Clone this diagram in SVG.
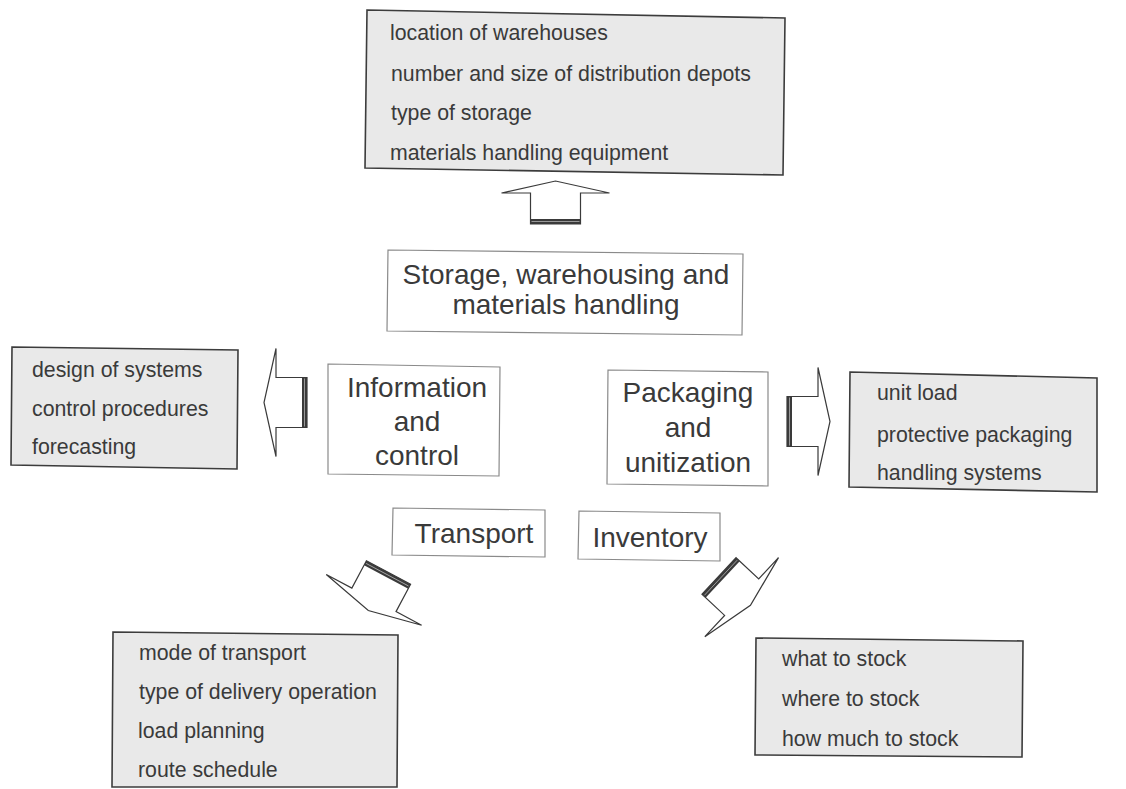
<svg xmlns="http://www.w3.org/2000/svg" xmlns:xlink="http://www.w3.org/1999/xlink" width="1126" height="789" viewBox="0 0 1126 789">
<style>
text{font-family:"Liberation Sans",Arial,sans-serif;fill:#3a3a3a}
.det{fill:#e9e9e9;stroke:#3c3c3c;stroke-width:1.6}
.lab{fill:#ffffff;stroke:#8a8a8a;stroke-width:1.2}
.dt{font-size:21.3px}
.lt{font-size:28px;text-anchor:middle}
.ah{fill:#ffffff;stroke:#3a3a3a;stroke-width:1.2;stroke-linejoin:miter}
</style>
<defs>
<g id="arr">
<polygon class="ah" points="0,-25 31,-25 31,-54 43,0 31,54 31,25 0,25"/>
<rect x="0" y="-25" width="5" height="50" fill="#3a3a3a"/>
<line x1="2.5" y1="-24" x2="2.5" y2="24" stroke="#b0b0b0" stroke-width="0.8"/>
</g>
</defs>
<rect width="1126" height="789" fill="#ffffff"/>

<g id="storage-details">
<polygon class="det" points="367,10 785,18 783,175 365,168"/>
<text class="dt" x="390" y="40">location of warehouses</text>
<text class="dt" x="391" y="81">number and size of distribution depots</text>
<text class="dt" x="391" y="120">type of storage</text>
<text class="dt" x="390" y="160">materials handling equipment</text>
</g>

<g id="storage">
<polygon class="lab" points="388,250 743,254 742,335 387,331"/>
<text class="lt" x="566" y="284">Storage, warehousing and</text>
<text class="lt" x="566" y="314">materials handling</text>
</g>

<g id="info-details">
<polygon class="det" points="12,347 238,350 237,469 11,465"/>
<text class="dt" x="32" y="377">design of systems</text>
<text class="dt" x="32" y="416">control procedures</text>
<text class="dt" x="32" y="454">forecasting</text>
</g>

<g id="information">
<polygon class="lab" points="328,364 500,367 499,476 328,474"/>
<text class="lt" x="417" y="397">Information</text>
<text class="lt" x="417" y="431">and</text>
<text class="lt" x="417" y="465">control</text>
</g>

<g id="packaging">
<polygon class="lab" points="608,370 768,372 768,486 607,484"/>
<text class="lt" x="688" y="402">Packaging</text>
<text class="lt" x="688" y="437">and</text>
<text class="lt" x="688" y="472">unitization</text>
</g>

<g id="packaging-details">
<polygon class="det" points="850,372 1097,378 1097,492 849,487"/>
<text class="dt" x="877" y="400">unit load</text>
<text class="dt" x="877" y="442">protective packaging</text>
<text class="dt" x="877" y="480">handling systems</text>
</g>

<g id="transport">
<polygon class="lab" points="393,508 545,510 545,557 392,555"/>
<text class="lt" x="474" y="543">Transport</text>
</g>

<g id="inventory">
<polygon class="lab" points="579,511 720,513 720,561 578,559"/>
<text class="lt" x="650" y="547">Inventory</text>
</g>

<g id="transport-details">
<polygon class="det" points="113,632 398,635 397,787 112,787"/>
<text class="dt" x="139" y="660">mode of transport</text>
<text class="dt" x="139" y="699">type of delivery operation</text>
<text class="dt" x="138" y="738">load planning</text>
<text class="dt" x="138" y="777">route schedule</text>
</g>

<g id="inventory-details">
<polygon class="det" points="756,638 1023,641 1022,757 755,755"/>
<text class="dt" x="782" y="666">what to stock</text>
<text class="dt" x="782" y="706">where to stock</text>
<text class="dt" x="782" y="746">how much to stock</text>
</g>

<g id="connectors">
<use xlink:href="#arr" transform="translate(555.5,224) rotate(-90)"/>
<use xlink:href="#arr" transform="translate(307,402.5) rotate(180)"/>
<use xlink:href="#arr" transform="translate(787,421.5)"/>
<use xlink:href="#arr" transform="translate(388.5,572.5) rotate(118)"/>
<use xlink:href="#arr" transform="translate(719,576) rotate(43)"/>
</g>
</svg>
